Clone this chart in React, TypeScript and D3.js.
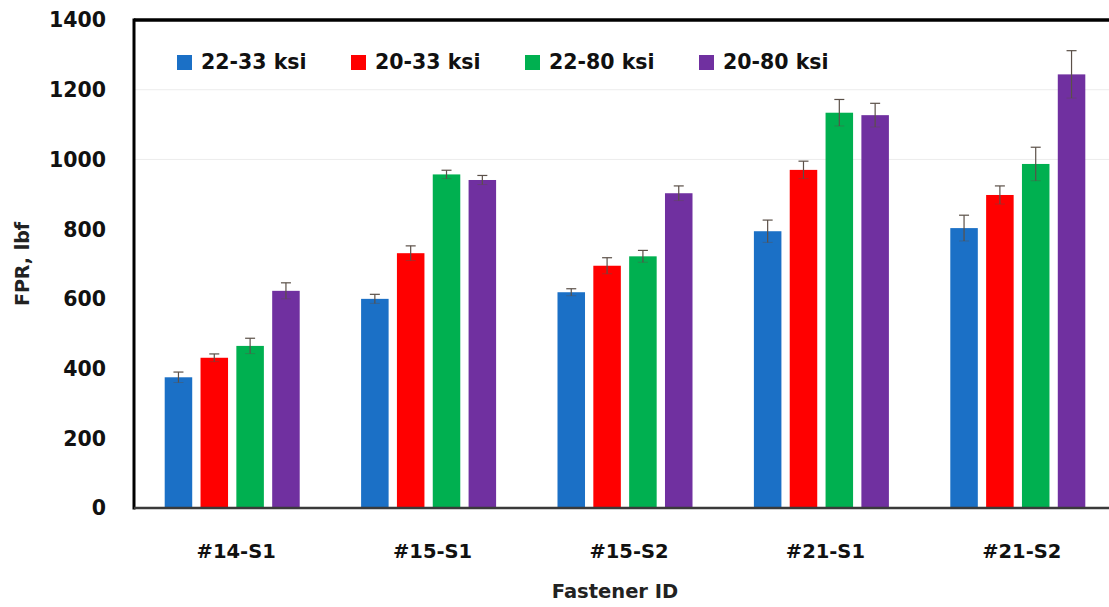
import React from "react";
import * as d3 from "d3";

const categories = ["#14-S1", "#15-S1", "#15-S2", "#21-S1", "#21-S2"];
const seriesNames = ["22-33 ksi", "20-33 ksi", "22-80 ksi", "20-80 ksi"];
const seriesColors = ["#1b70c6", "#ff0000", "#00b050", "#7030a0"];
const values22_33 = [375, 600, 619, 794, 803];
const values20_33 = [431, 731, 695, 970, 898];
const values22_80 = [465, 957, 722, 1134, 987];
const values20_80 = [623, 941, 903, 1127, 1244];
const err22_33 = [15, 13, 10, 32, 37];
const err20_33 = [11, 21, 23, 25, 26];
const err22_80 = [22, 12, 17, 38, 48];
const err20_80 = [23, 13, 21, 34, 68];
const yTicks = [0, 200, 400, 600, 800, 1000, 1200, 1400];
const gridValues = [1000, 1200];

const seriesValues = [values22_33, values20_33, values22_80, values20_80];
const seriesErrors = [err22_33, err20_33, err22_80, err20_80];

const W = 1109;
const H = 607;
const left = 134;
const right = 1116;
const top = 20;
const bottom = 508;
const FONT = "'DejaVu Sans', sans-serif";

export default function App() {
  const x0 = d3
    .scaleBand<string>()
    .domain(categories)
    .range([left, right])
    .paddingInner(0.3126)
    .paddingOuter(0.1563);
  const x1 = d3
    .scaleBand<number>()
    .domain(d3.range(seriesNames.length))
    .range([0, x0.bandwidth()])
    .paddingInner(0.232)
    .paddingOuter(0);
  const y = d3.scaleLinear().domain([0, 1400]).range([bottom, top]);

  return (
    <div style={{ position: "absolute", left: 0, top: 0, width: W, height: H, background: "#fff" }}>
      <svg width={W} height={H} style={{ display: "block" }} fontFamily={FONT}>
        <rect x={0} y={0} width={W} height={H} fill="#fff" />
        {gridValues.map((g) => (
          <line key={g} x1={left} x2={W} y1={y(g)} y2={y(g)} stroke="#ececec" strokeWidth={1} />
        ))}
        {/* bars */}
        {categories.map((c, ci) => (
          <g key={c} transform={`translate(${x0(c)},0)`}>
            {seriesValues.map((vals, si) => {
              const v = vals[ci];
              const e = seriesErrors[si][ci];
              const bx = x1(si)!;
              const bw = x1.bandwidth();
              const cx = bx + bw / 2;
              return (
                <g key={si}>
                  <rect x={bx} y={y(v)} width={bw} height={y(0) - y(v)} fill={seriesColors[si]} />
                  <line x1={cx} x2={cx} y1={y(v - e)} y2={y(v + e)} stroke="#5b5048" strokeWidth={1.2} />
                  <line x1={cx - 5} x2={cx + 5} y1={y(v + e)} y2={y(v + e)} stroke="#5b5048" strokeWidth={1.2} />
                  <line x1={cx - 5} x2={cx + 5} y1={y(v - e)} y2={y(v - e)} stroke="#5b5048" strokeWidth={1} opacity={0.4} />
                </g>
              );
            })}
          </g>
        ))}
        {/* frame */}
        <line x1={left} x2={W} y1={top} y2={top} stroke="#000" strokeWidth={3.5} />
        <line x1={left} x2={left} y1={top - 1.5} y2={bottom + 1.5} stroke="#000" strokeWidth={3} />
        <line x1={left} x2={W} y1={bottom} y2={bottom} stroke="#3a3a3a" strokeWidth={2.5} />
        {/* y ticks */}
        {yTicks.map((t) => (
          <text
            key={t}
            x={106}
            y={y(t)}
            dy="0.36em"
            textAnchor="end"
            fontSize={20.5}
            fontWeight="bold"
            fill="#111"
          >
            {t}
          </text>
        ))}
        {/* x labels */}
        {categories.map((c) => (
          <text
            key={c}
            x={x0(c)! + x0.bandwidth() / 2 + 4}
            y={558}
            textAnchor="middle"
            fontSize={19.5}
            fontWeight="bold"
            fill="#111"
          >
            {c}
          </text>
        ))}
        <text x={615} y={598} textAnchor="middle" fontSize={19.5} fontWeight="bold" fill="#222">
          Fastener ID
        </text>
        <text
          transform={`translate(29,${264}) rotate(-90)`}
          textAnchor="middle"
          fontSize={19}
          fontWeight="bold"
          fill="#222"
        >
          FPR, lbf
        </text>
        {/* legend */}
        {seriesNames.map((n, i) => (
          <g key={n} transform={`translate(${177 + i * 174},55)`}>
            <rect x={0} y={0} width={15} height={15} fill={seriesColors[i]} />
            <text x={24} y={14} fontSize={20.5} fontWeight="bold" fill="#111">
              {n}
            </text>
          </g>
        ))}
      </svg>
    </div>
  );
}
